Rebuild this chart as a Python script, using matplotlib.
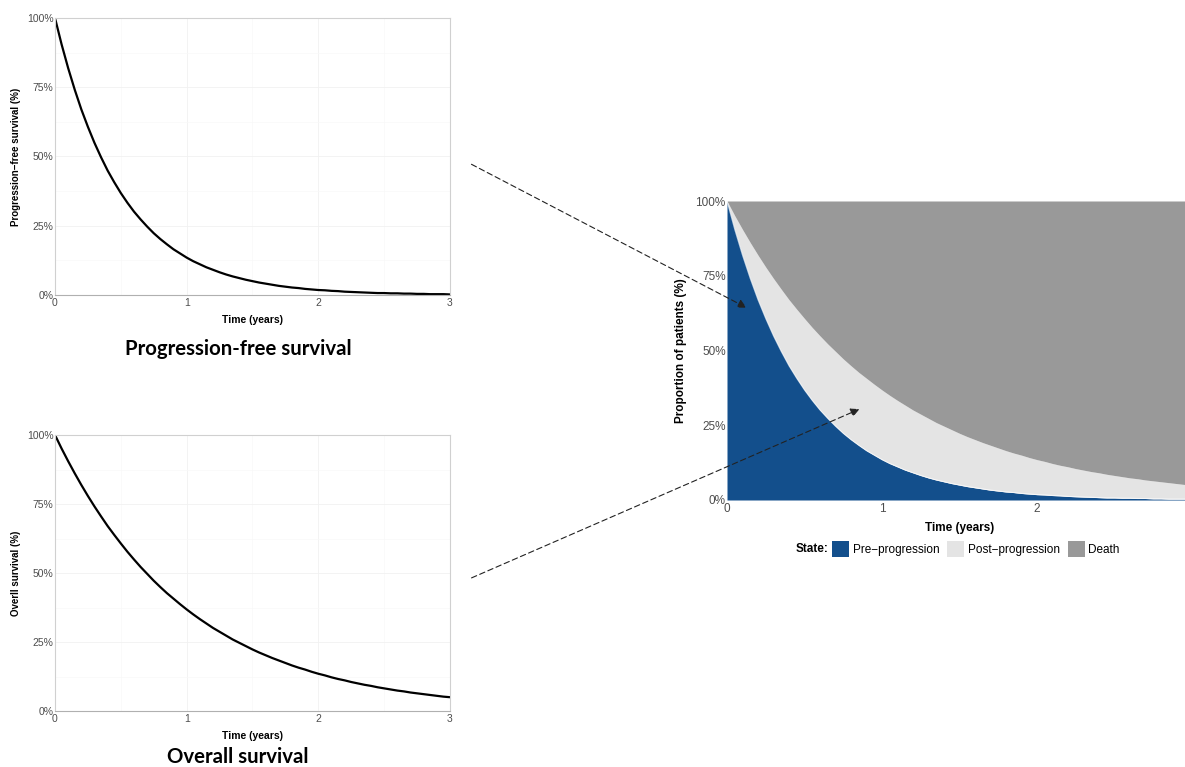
import matplotlib
matplotlib.use("Agg")
import matplotlib.pyplot as plt
from matplotlib.patches import FancyArrowPatch, Patch

# ---------------- data ----------------
time_years = [i / 20 for i in range(61)]
pfs = [1.000, 0.905, 0.819, 0.741, 0.670, 0.607, 0.549, 0.497, 0.449, 0.407,
       0.368, 0.333, 0.301, 0.273, 0.247, 0.223, 0.202, 0.183, 0.165, 0.150,
       0.135, 0.122, 0.111, 0.100, 0.091, 0.082, 0.074, 0.067, 0.061, 0.055,
       0.050, 0.045, 0.041, 0.037, 0.033, 0.030, 0.027, 0.025, 0.022, 0.020,
       0.018, 0.017, 0.015, 0.014, 0.012, 0.011, 0.010, 0.009, 0.008, 0.007,
       0.007, 0.006, 0.006, 0.005, 0.005, 0.004, 0.004, 0.003, 0.003, 0.003,
       0.002]
os_surv = [1.000, 0.951, 0.905, 0.861, 0.819, 0.779, 0.741, 0.705, 0.670, 0.638,
           0.607, 0.577, 0.549, 0.522, 0.497, 0.472, 0.449, 0.427, 0.407, 0.387,
           0.368, 0.350, 0.333, 0.317, 0.301, 0.287, 0.273, 0.259, 0.247, 0.235,
           0.223, 0.212, 0.202, 0.192, 0.183, 0.174, 0.165, 0.157, 0.150, 0.142,
           0.135, 0.129, 0.122, 0.116, 0.111, 0.105, 0.100, 0.095, 0.091, 0.086,
           0.082, 0.078, 0.074, 0.071, 0.067, 0.064, 0.061, 0.058, 0.055, 0.052,
           0.050]
x_ticks = [0, 1, 2, 3]
x_ticks_right = [0, 1, 2]
y_ticks = [0, 0.25, 0.5, 0.75, 1.0]
y_tick_labels = ["0%", "25%", "50%", "75%", "100%"]
states = ["Pre\u2212progression", "Post\u2212progression", "Death"]
state_colors = ["#134F8C", "#E4E4E4", "#999999"]

# ---------------- figure ----------------
W, H = 1185, 767
plt.rcParams['font.family'] = ['Liberation Sans', 'DejaVu Sans']
fig = plt.figure(figsize=(W / 100, H / 100), dpi=100)
fig.patch.set_facecolor("white")


def ax_px(l, t, r, b):
    return fig.add_axes([l / W, 1 - b / H, (r - l) / W, (b - t) / H])


def style_left(ax, ylabel):
    ax.set_xlim(0, 3)
    ax.set_ylim(0, 1)
    ax.set_xticks(x_ticks)
    ax.set_xticklabels([str(t) for t in x_ticks])
    ax.set_yticks(y_ticks)
    ax.set_yticklabels(y_tick_labels)
    ax.set_xticks([0.5, 1.5, 2.5], minor=True)
    ax.set_yticks([0.125, 0.375, 0.625, 0.875], minor=True)
    ax.grid(True, which="major", color="#F1F1F1", lw=0.6)
    ax.grid(True, which="minor", color="#F8F8F8", lw=0.5)
    ax.set_axisbelow(True)
    ax.tick_params(axis="both", which="both", length=0, labelsize=7.5,
                   labelcolor="#4D4D4D")
    ax.tick_params(axis="x", pad=2)
    ax.tick_params(axis="y", pad=1)
    for s in ax.spines.values():
        s.set_color("#D0D0D0")
        s.set_linewidth(0.8)
    ax.spines["bottom"].set_color("#B0B0B0")
    ax.set_xlabel("Time (years)", fontsize=7.5, fontweight="bold", labelpad=5)
    ax.set_ylabel(ylabel, fontsize=7, fontweight="bold", labelpad=4)


ax1 = ax_px(55, 18, 450, 295)
ax1.plot(time_years, pfs, color="black", lw=1.6)
style_left(ax1, "Progression\u2212free survival (%)")

ax2 = ax_px(55, 435, 450, 711)
ax2.plot(time_years, os_surv, color="black", lw=1.6)
style_left(ax2, "Overll survival (%)")

fig.text(238 / W, 1 - 349 / H, "Progression-free survival", ha="center",
         va="center", fontsize=14.7, fontweight="bold", family=["Lato", "DejaVu Sans"])
fig.text(238 / W, 1 - 767 / H, "Overall survival", ha="center",
         va="bottom", fontsize=14.7, fontweight="bold", family=["Lato", "DejaVu Sans"])

# ---------------- right panel ----------------
ax3 = ax_px(727, 201, 1192, 500)
ax3.fill_between(time_years, 0, pfs, color=state_colors[0], lw=0)
ax3.fill_between(time_years, pfs, os_surv, color=state_colors[1], lw=0)
ax3.fill_between(time_years, os_surv, 1, color=state_colors[2], lw=0)
ax3.plot(time_years, pfs, color="white", lw=0.8, alpha=0.7)
ax3.set_xlim(0, 3)
ax3.set_ylim(0, 1)
ax3.set_xticks(x_ticks_right)
ax3.set_xticklabels([str(t) for t in x_ticks_right])
ax3.set_yticks(y_ticks)
ax3.set_yticklabels(y_tick_labels)
ax3.tick_params(axis="both", length=0, labelsize=8.5, labelcolor="#4D4D4D", pad=1)
ax3.tick_params(axis="x", pad=2)
for s in ax3.spines.values():
    s.set_visible(False)
ax3.set_xlabel("Time (years)", fontsize=8.5, fontweight="bold", labelpad=5)
ax3.set_ylabel("Proportion of patients (%)", fontsize=8.5, fontweight="bold",
               labelpad=6)

# legend
fig.text(829 / W, 1 - 549 / H, "State:", ha="right", va="center",
         fontsize=8.5, fontweight="bold")
handles = [Patch(facecolor=c, edgecolor="none") for c in state_colors]
fig.legend(handles, states, loc="center left",
           bbox_to_anchor=(830 / W, 1 - 549 / H), ncol=3, frameon=False,
           fontsize=8.5, handlelength=1.45, handleheight=1.6,
           handletextpad=0.3, columnspacing=0.65, borderaxespad=0,
           borderpad=0.2)

# dashed arrows
for (x0, y0), (x1, y1) in [((469, 163), (749, 309)), ((469, 579), (862, 408))]:
    arr = FancyArrowPatch((x0 / W, 1 - y0 / H), (x1 / W, 1 - y1 / H),
                          transform=fig.transFigure, arrowstyle="-|>",
                          mutation_scale=13, color="#222222", lw=0.8,
                          linestyle=(0, (5, 3)), zorder=10)
    fig.add_artist(arr)

fig.savefig("out.png", dpi=100, facecolor="white")
